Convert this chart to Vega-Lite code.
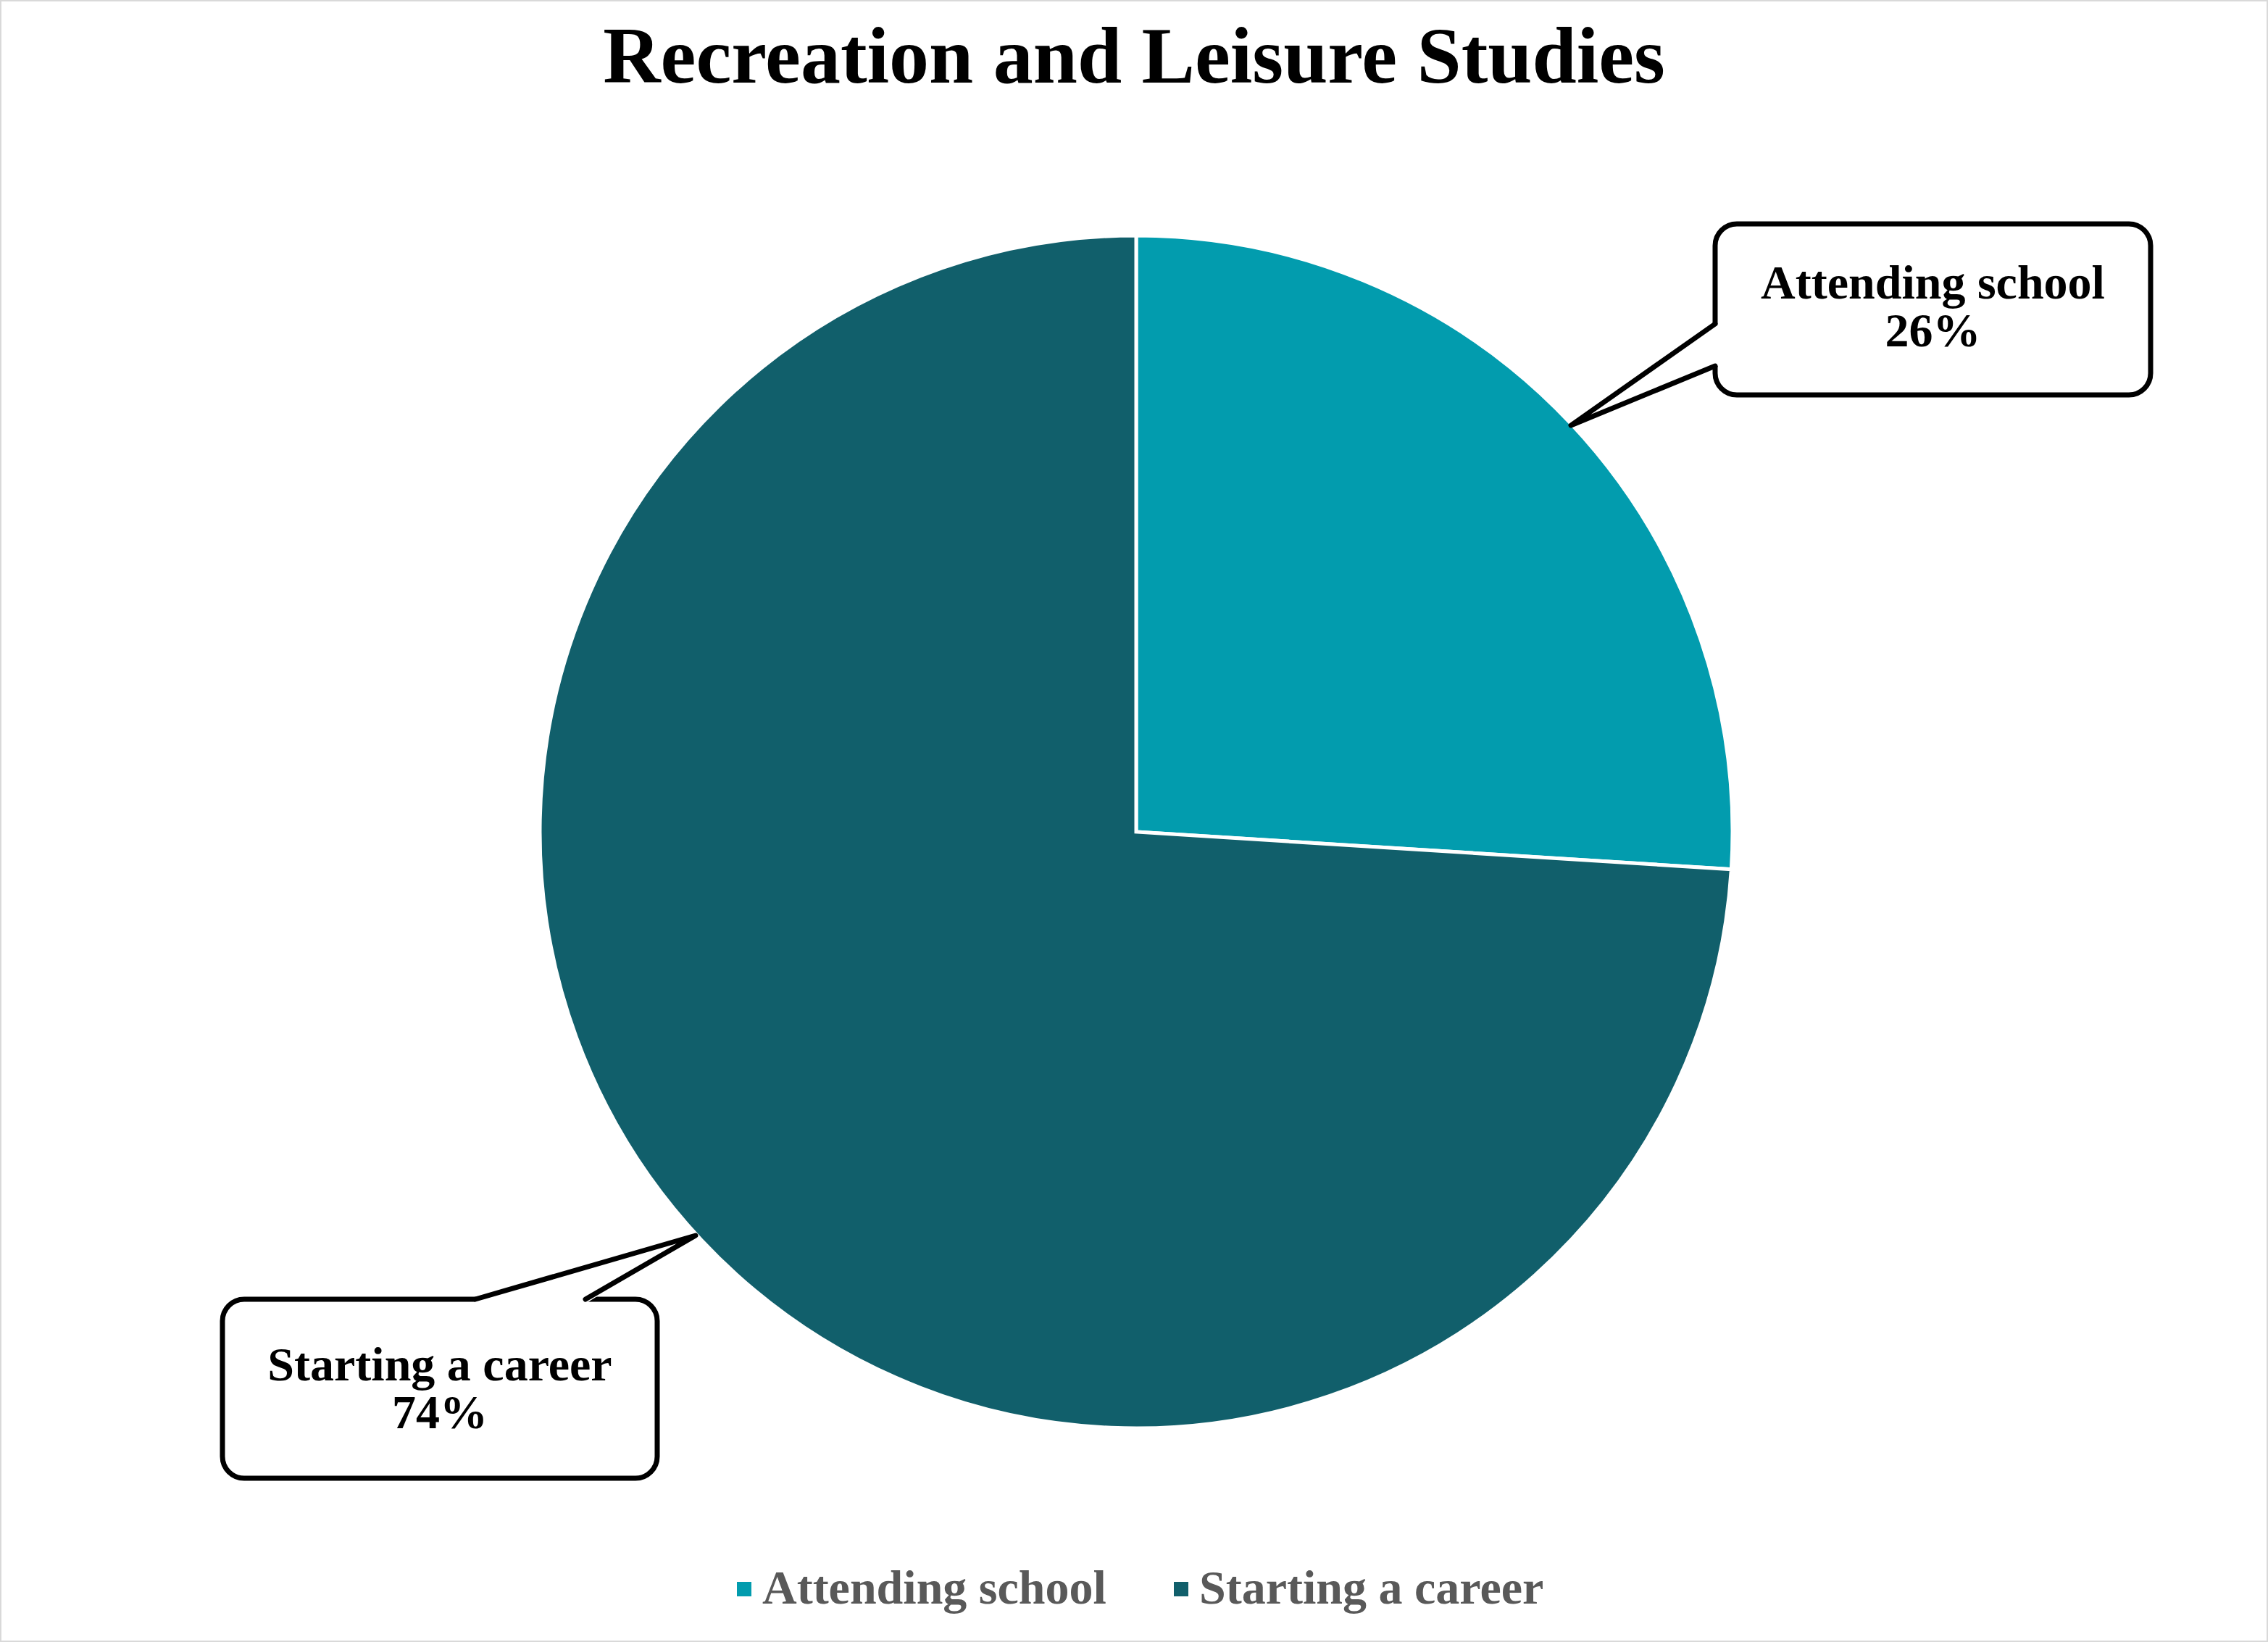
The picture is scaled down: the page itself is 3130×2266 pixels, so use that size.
{
  "$schema": "https://vega.github.io/schema/vega-lite/v6.json",
  "width": 3130,
  "height": 2266,
  "autosize": {"type": "none"},
  "padding": 0,
  "background": "white",
  "title": {
    "text": "Recreation and Leisure Studies",
    "font": "Liberation Serif",
    "fontSize": 110,
    "fontWeight": "bold",
    "color": "#000000",
    "anchor": "middle",
    "baseline": "alphabetic",
    "offset": 0,
    "dy": 224
  },
  "datasets": {
    "shares": [
      {"category": "Attending school", "share": 26},
      {"category": "Starting a career", "share": 74}
    ],
    "boxes": [
      {"id": "school", "u1": 0.97084, "u2": 1.70109, "v1": 1.01944, "v2": 0.73269},
      {"id": "career", "u1": -1.5322, "u2": -0.80316, "v1": -0.78372, "v2": -1.08384}
    ],
    "pointerFill": [
      {"id": "school", "u": 0.72904, "vTop": 0.68165, "vBottom": 0.68165},
      {"id": "school", "u": 0.97084, "vTop": 0.85176, "vBottom": 0.78129},
      {"id": "school", "u": 0.98056, "vTop": 0.85176, "vBottom": 0.78129},
      {"id": "career", "u": -1.10814, "vTop": -0.78372, "vBottom": -0.79101},
      {"id": "career", "u": -0.92345, "vTop": -0.73026, "vBottom": -0.79101},
      {"id": "career", "u": -0.73876, "vTop": -0.67679, "vBottom": -0.67679}
    ],
    "pointerEdge": [
      {"id": "school", "step": 1, "u": 0.97084, "v": 0.85176},
      {"id": "school", "step": 2, "u": 0.72904, "v": 0.68165},
      {"id": "school", "step": 3, "u": 0.97084, "v": 0.78129},
      {"id": "career", "step": 1, "u": -1.10814, "v": -0.78372},
      {"id": "career", "step": 2, "u": -0.73876, "v": -0.67679},
      {"id": "career", "step": 3, "u": -0.92345, "v": -0.78372}
    ],
    "labels": [
      {"label": "Attending school\n26%", "u": 1.33597, "v": 0.89429},
      {"label": "Starting a career\n74%", "u": -1.16768, "v": -0.91981}
    ]
  },
  "layer": [
    {
      "data": {"name": "shares"},
      "mark": {"type": "arc", "outerRadius": 823, "stroke": "white", "strokeWidth": 5},
      "encoding": {
        "theta": {"field": "share", "type": "quantitative", "stack": true},
        "color": {
          "field": "category",
          "type": "nominal",
          "scale": {
            "domain": ["Attending school", "Starting a career"],
            "range": ["#029CAE", "#115F6B"]
          },
          "legend": {
            "title": null,
            "orient": "none",
            "legendX": 994,
            "legendY": 2160,
            "direction": "horizontal",
            "symbolType": "square",
            "symbolSize": 400,
            "symbolStrokeWidth": 0,
            "labelFont": "Liberation Serif",
            "labelFontSize": 66,
            "labelFontWeight": "bold",
            "labelColor": "#595959",
            "labelOffset": -8,
            "labelLimit": 0,
            "columnPadding": 70,
            "padding": 0
          }
        },
        "x": {
          "datum": 0,
          "type": "quantitative",
          "scale": {"domain": [-1.90522, 1.89793], "nice": false, "zero": false},
          "axis": null
        },
        "y": {
          "datum": 0,
          "type": "quantitative",
          "scale": {"domain": [-1.35844, 1.3949], "nice": false, "zero": false},
          "axis": null
        }
      }
    },
    {
      "data": {"name": "boxes"},
      "mark": {"type": "rect", "fill": "white", "stroke": "black", "strokeWidth": 7, "cornerRadius": 30},
      "encoding": {
        "x": {"field": "u1", "type": "quantitative", "axis": null},
        "x2": {"field": "u2"},
        "y": {"field": "v1", "type": "quantitative", "axis": null},
        "y2": {"field": "v2"}
      }
    },
    {
      "data": {"name": "pointerFill"},
      "mark": {"type": "area", "fill": "white", "opacity": 1},
      "encoding": {
        "x": {"field": "u", "type": "quantitative", "axis": null},
        "y": {"field": "vTop", "type": "quantitative", "axis": null, "stack": null},
        "y2": {"field": "vBottom"},
        "detail": {"field": "id"}
      }
    },
    {
      "data": {"name": "pointerEdge"},
      "mark": {"type": "line", "color": "black", "strokeWidth": 7, "strokeJoin": "round", "strokeCap": "round"},
      "encoding": {
        "x": {"field": "u", "type": "quantitative", "axis": null},
        "y": {"field": "v", "type": "quantitative", "axis": null},
        "detail": {"field": "id"},
        "order": {"field": "step"}
      }
    },
    {
      "data": {"name": "labels"},
      "mark": {
        "type": "text",
        "font": "Liberation Serif",
        "fontSize": 66,
        "fontWeight": "bold",
        "color": "black",
        "align": "center",
        "baseline": "alphabetic",
        "lineBreak": "\n",
        "lineHeight": 66
      },
      "encoding": {
        "x": {"field": "u", "type": "quantitative", "axis": null},
        "y": {"field": "v", "type": "quantitative", "axis": null},
        "text": {"field": "label"}
      }
    }
  ],
  "config": {
    "view": {"stroke": "#d9d9d9", "strokeWidth": 4}
  }
}
